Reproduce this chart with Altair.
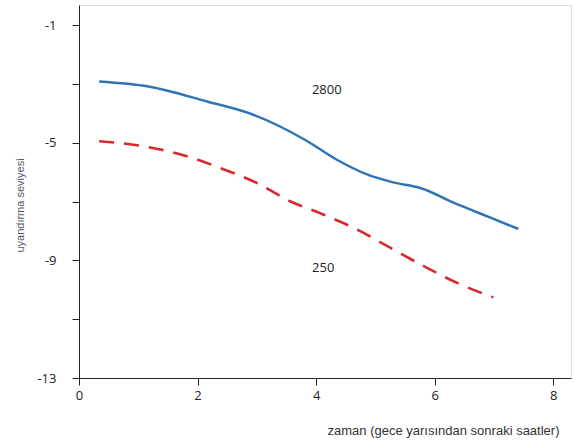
import altair as alt
import pandas as pd

# blue solid curve (2800)
hi_x = [0.34, 1.17, 2.16, 2.94, 3.81, 4.35, 4.86, 5.30, 5.76, 6.32, 6.88, 7.41]
hi_y = [-2.92, -3.09, -3.60, -4.05, -4.90, -5.58, -6.08, -6.35, -6.54, -7.04, -7.50, -7.93]
# red dashed curve (250)
lo_x = [0.34, 1.17, 1.82, 2.38, 3.00, 3.56, 4.12, 4.69, 5.25, 5.81, 6.37, 6.99]
lo_y = [-4.95, -5.15, -5.46, -5.86, -6.37, -6.99, -7.44, -7.95, -8.57, -9.19, -9.76, -10.26]

label_text = ["2800", "250"]
label_x = [4.18, 4.12]
label_y = [-3.2, -9.25]

y_ticks = [-13, -11, -9, -7, -5, -3, -1]
x_ticks = [0, 2, 4, 6, 8]

hi = pd.DataFrame({"x": hi_x, "y": hi_y})
lo = pd.DataFrame({"x": lo_x, "y": lo_y})
labels = pd.DataFrame({"t": label_text, "x": label_x, "y": label_y})

FONT = "Open Sans"
TFONT = "Liberation Sans"

xs = alt.Scale(domain=[0, 8.3], nice=False)
ys = alt.Scale(domain=[-13, -0.32], nice=False)

xax = alt.Axis(values=x_ticks, title="zaman (gece yarısından sonraki saatler)",
               labelExpr="toString(datum.value)",
               grid=False, domainColor="#222", tickColor="#222", tickSize=7,
               labelFont=FONT, labelFontSize=13, labelColor="#222", labelPadding=4,
               titleFont=TFONT, titleFontSize=13, titleFontWeight="normal", titleColor="#333",
               titleAnchor="end", titleAlign="right", titleX=480, titleY=52,
               titleBaseline="middle", labelFlush=False)
yax = alt.Axis(values=y_ticks, title="uyandırma seviyesi",
               labelExpr="(datum.value == -13 || datum.value == -9 || datum.value == -5 || datum.value == -1) ? toString(datum.value) : ''",
               grid=False, domainColor="#222", tickColor="#222", tickSize=7,
               labelFont=FONT, labelFontSize=13, labelColor="#222", labelPadding=16,
               titleFont=TFONT, titleFontSize=11, titleFontWeight="normal", titleColor="#556",
               titleX=-59, titleY=200, titleAnchor="middle", titleAlign="center",
               titleBaseline="middle")

blue = alt.Chart(hi).mark_line(color="#2f74b5", strokeWidth=2.5, interpolate="monotone").encode(
    x=alt.X("x:Q", scale=xs, axis=xax),
    y=alt.Y("y:Q", scale=ys, axis=yax),
)
red = alt.Chart(lo).mark_line(color="#d42a2f", strokeWidth=2.6, strokeDash=[15, 10],
                              interpolate="monotone").encode(
    x=alt.X("x:Q", scale=xs),
    y=alt.Y("y:Q", scale=ys),
)
txt = alt.Chart(labels).mark_text(font=FONT, fontSize=13, color="#222").encode(
    x=alt.X("x:Q", scale=xs),
    y=alt.Y("y:Q", scale=ys),
    text="t:N",
)

chart = alt.layer(blue, red, txt).properties(
    width=492, height=373,
    autosize=alt.AutoSizeParams(type="none"),
    padding={"left": 79, "top": 5, "right": 3, "bottom": 65},
).configure_view(stroke=None).configure(background="white")

chart.save("out.html", embed_options={"renderer": "svg", "actions": False})
